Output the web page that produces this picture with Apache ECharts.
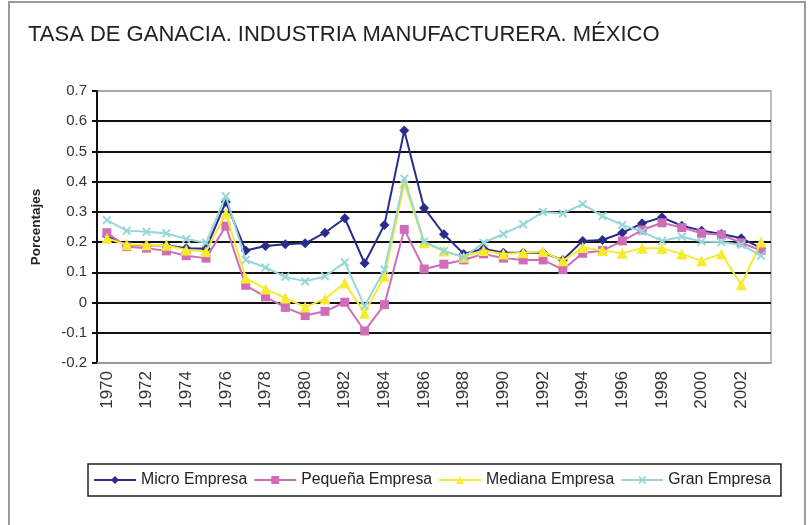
<!DOCTYPE html>
<html>
<head>
<meta charset="utf-8">
<script src="https://cdn.jsdelivr.net/npm/echarts@6/dist/echarts.min.js"></script>
<style>
html,body{margin:0;padding:0;background:#fff;}
#chart{width:808px;height:525px;}
</style>
</head>
<body>
<div id="chart"></div>
<script>
var years = ['1970','1971','1972','1973','1974','1975','1976','1977','1978','1979','1980','1981','1982','1983','1984','1985','1986','1987','1988','1989','1990','1991','1992','1993','1994','1995','1996','1997','1998','1999','2000','2001','2002','2003'];
var micro = [0.22,0.19,0.19,0.19,0.18,0.178,0.333,0.172,0.187,0.193,0.196,0.231,0.279,0.13,0.257,0.569,0.313,0.226,0.161,0.178,0.165,0.165,0.165,0.141,0.204,0.207,0.231,0.262,0.282,0.254,0.238,0.227,0.213,0.18];
var pequena = [0.231,0.185,0.18,0.171,0.155,0.147,0.253,0.057,0.019,-0.016,-0.043,-0.029,0.001,-0.094,-0.007,0.242,0.111,0.127,0.141,0.161,0.147,0.141,0.141,0.109,0.163,0.172,0.204,0.24,0.264,0.248,0.229,0.224,0.198,0.172];
var mediana = [0.213,0.191,0.191,0.19,0.174,0.169,0.295,0.081,0.045,0.015,-0.015,0.012,0.065,-0.035,0.087,0.394,0.198,0.171,0.15,0.172,0.161,0.165,0.169,0.138,0.182,0.172,0.163,0.18,0.18,0.161,0.138,0.161,0.059,0.2];
var gran = [0.273,0.238,0.234,0.229,0.21,0.198,0.352,0.141,0.116,0.085,0.07,0.087,0.133,-0.012,0.109,0.41,0.202,0.171,0.15,0.198,0.227,0.259,0.3,0.295,0.326,0.286,0.257,0.235,0.204,0.218,0.202,0.2,0.191,0.155];
var seriesNames = ['Micro Empresa','Pequeña Empresa','Mediana Empresa','Gran Empresa'];
var titleText = 'TASA DE GANACIA. INDUSTRIA MANUFACTURERA. MÉXICO';
var yAxisName = 'Porcentajes';

var colors = ['#2A2C8C','#CF6DB8','#F6EB2E','#96D7D7'];
var xPath = 'path://M0,1.5L1.5,0L5,3.5L8.5,0L10,1.5L6.5,5L10,8.5L8.5,10L5,6.5L1.5,10L0,8.5L3.5,5Z';
var symbols = ['diamond','rect','triangle',xPath];
var symSizes = [10,9,11,9];
var datasets = [micro, pequena, mediana, gran];

var chart = echarts.init(document.getElementById('chart'), null, {renderer:'canvas'});
var splitColors = ['#999'];
for (var i = 0; i < 8; i++) splitColors.push('#111');
splitColors.push('#aaa');

var option = {
  animation: false,
  backgroundColor: '#fff',
  title: {
    text: titleText,
    left: 23, top: 19,
    textStyle: {fontFamily: '"Liberation Sans", Arial, sans-serif', fontSize: 22, fontWeight: 'normal', color: '#222'}
  },
  graphic: [{
    type: 'rect', shape: {x: 9, y: 2, width: 796, height: 540},
    style: {fill: 'none', stroke: '#9a9a9a', lineWidth: 2}, silent: true, z: -1
  }],
  grid: {left: 97, top: 91, right: 37, bottom: 162, show: true, borderColor: '#aaa', borderWidth: 1.5},
  legend: {
    data: seriesNames,
    left: 88, top: 464,
    padding: [8, 10, 8, 5],
    borderColor: '#222', borderWidth: 1.5,
    itemWidth: 42, itemHeight: 10, itemGap: 6,
    textStyle: {fontFamily: '"Liberation Sans", Arial, sans-serif', fontSize: 15.8, color: '#222'}
  },
  xAxis: {
    type: 'category', data: years, boundaryGap: true,
    axisLine: {onZero: false, lineStyle: {color: '#999', width: 1.5}},
    axisTick: {show: false},
    axisLabel: {rotate: 90, interval: 1, margin: 8, fontFamily: '"Liberation Sans", Arial, sans-serif', fontSize: 17, color: '#333'},
    splitLine: {show: false}
  },
  yAxis: {
    type: 'value', min: -0.2, max: 0.7, interval: 0.1,
    name: yAxisName, nameLocation: 'middle', nameGap: 54,
    nameTextStyle: {fontFamily: '"Liberation Sans", Arial, sans-serif', fontSize: 13.5, fontWeight: 'bold', color: '#222'},
    axisLine: {show: true, lineStyle: {color: '#111', width: 2}},
    axisTick: {show: true, length: 5, lineStyle: {color: '#111', width: 2}},
    axisLabel: {
      margin: 10, fontFamily: '"Liberation Sans", Arial, sans-serif', fontSize: 15, color: '#333',
      formatter: function (v) { var r = Math.round(v * 10) / 10; return r === 0 ? '0' : r.toFixed(1); }
    },
    splitLine: {show: true, lineStyle: {color: splitColors, width: 2}}
  },
  series: seriesNames.map(function (n, i) {
    return {
      name: n, type: 'line', data: datasets[i],
      symbol: symbols[i], symbolSize: symSizes[i],
      lineStyle: {color: colors[i], width: 2},
      itemStyle: {color: colors[i]},
      z: 2 + i
    };
  })
};
chart.setOption(option);
</script>
</body>
</html>
